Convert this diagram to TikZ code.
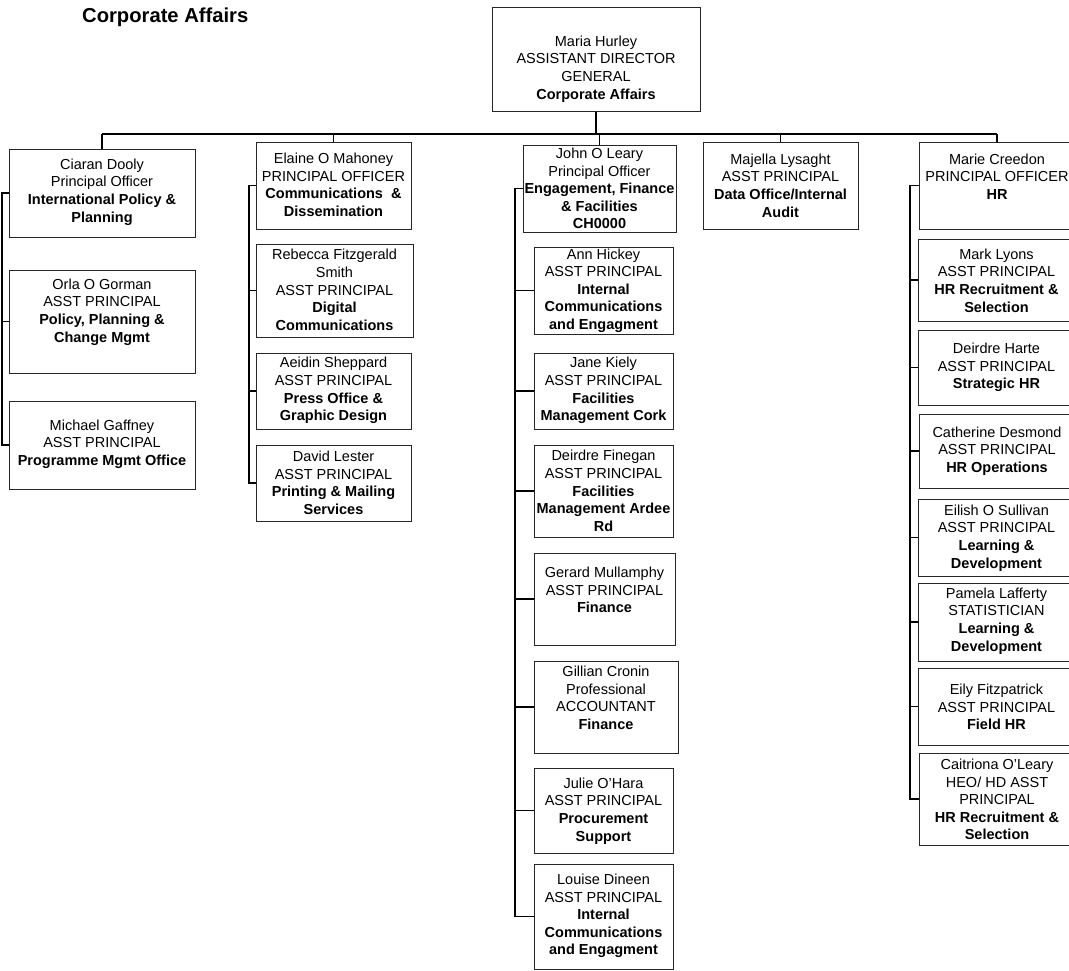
\documentclass[tikz,border=0pt]{standalone}
\usepackage{fontspec}
\setmainfont{Liberation Sans}
\usetikzlibrary{fit,calc}
\tikzset{
  orgbox/.style={draw=black!85, line width=1pt, inner sep=0pt, fill=white},
  orgtxt/.style={align=center, inner sep=0pt, font=\fontsize{14.5}{17.6}\selectfont},
  conn/.style={draw=black, line width=1.3pt},
  titletxt/.style={inner sep=0pt, font=\fontsize{20.2}{24}\selectfont\bfseries}
}
% \orgbox{name}{x1}{y1}{x2}{y2}{text centre y}{text}
\newcommand{\obox}[7]{%
  \node[orgbox, fit={(#2,#3) (#4,#5)}] (#1) {};
  \node[orgtxt] (#1-t) at ({(#2+#4)/2},#6) {#7};
}
\begin{document}
\begin{tikzpicture}[x=1pt,y=-1pt]
\useasboundingbox (0,0) rectangle (1069,970);
\clip (0,0) rectangle (1069,970);
\fill[white] (0,0) rectangle (1069,970);

\node[titletxt, anchor=base west] (title) at (82,22) {Corporate Affairs};

% top
\obox{top}{492}{7}{700}{111}{69}{Maria Hurley\\ASSISTANT DIRECTOR\\GENERAL\\\textbf{Corporate Affairs}}

% column 1
\obox{ciaran}{9}{149}{195}{237}{192}{Ciaran Dooly\\Principal Officer\\\textbf{International Policy \&}\\\textbf{Planning}}
\obox{orla}{9}{270}{195}{373}{312}{Orla O Gorman\\ASST PRINCIPAL\\\textbf{Policy, Planning \&}\\\textbf{Change Mgmt}}
\obox{michael}{9}{401}{195}{489}{444}{Michael Gaffney\\ASST PRINCIPAL\\\textbf{Programme Mgmt Office}}

% column 2
\obox{elaine}{256}{142}{411}{229}{185}{Elaine O Mahoney\\PRINCIPAL OFFICER\\\textbf{Communications \ \&}\\\textbf{Dissemination}}
\obox{rebecca}{256}{244}{413}{337}{290}{Rebecca Fitzgerald\\Smith\\ASST PRINCIPAL\\\textbf{Digital}\\\textbf{Communications}}
\obox{aeidin}{256}{353}{411}{429}{390.5}{Aeidin Sheppard\\ASST PRINCIPAL\\\textbf{Press Office \&}\\\textbf{Graphic Design}}
\obox{david}{256}{445}{411}{521}{483}{David Lester\\ASST PRINCIPAL\\\textbf{Printing \& Mailing}\\\textbf{Services}}

% column 3
\obox{john}{523}{145}{676}{232}{188.5}{John O Leary\\Principal Officer\\\textbf{Engagement, Finance}\\\textbf{\& Facilities}\\\textbf{CH0000}}
\obox{ann}{534}{247}{673}{334}{290.5}{Ann Hickey\\ASST PRINCIPAL\\\textbf{Internal}\\\textbf{Communications}\\\textbf{and Engagment}}
\obox{jane}{534}{353}{673}{429}{390.5}{Jane Kiely\\ASST PRINCIPAL\\\textbf{Facilities}\\\textbf{Management Cork}}
\obox{deirdref}{534}{445}{673}{537}{491}{Deirdre Finegan\\ASST PRINCIPAL\\\textbf{Facilities}\\\textbf{Management Ardee}\\\textbf{Rd}}
\obox{gerard}{534}{553}{675}{645}{590}{Gerard Mullamphy\\ASST PRINCIPAL\\\textbf{Finance}}
\obox{gillian}{534}{661}{678}{753}{698}{Gillian Cronin\\Professional\\ACCOUNTANT\\\textbf{Finance}}
\obox{julie}{534}{768}{673}{853}{811}{Julie O’Hara\\ASST PRINCIPAL\\\textbf{Procurement}\\\textbf{Support}}
\obox{louise}{534}{864}{673}{969}{916}{Louise Dineen\\ASST PRINCIPAL\\\textbf{Internal}\\\textbf{Communications}\\\textbf{and Engagment}}

% column 4
\obox{majella}{703}{142}{858}{229}{185.5}{Majella Lysaght\\ASST PRINCIPAL\\\textbf{Data Office/Internal}\\\textbf{Audit}}

% column 5
\obox{marie}{919}{142}{1075}{229}{176.5}{Marie Creedon\\PRINCIPAL OFFICER\\\textbf{HR}}
\obox{mark}{918}{239}{1075}{321}{280.5}{Mark Lyons\\ASST PRINCIPAL\\\textbf{HR Recruitment \&}\\\textbf{Selection}}
\obox{deirdreh}{918}{330}{1075}{405}{367.5}{Deirdre Harte\\ASST PRINCIPAL\\\textbf{Strategic HR}}
\obox{catherine}{919}{414}{1075}{488}{451}{Catherine Desmond\\ASST PRINCIPAL\\\textbf{HR Operations}}
\obox{eilish}{918}{499}{1075}{576}{538}{Eilish O Sullivan\\ASST PRINCIPAL\\\textbf{Learning \&}\\\textbf{Development}}
\obox{pamela}{918}{583}{1075}{661}{621}{Pamela Lafferty\\STATISTICIAN\\\textbf{Learning \&}\\\textbf{Development}}
\obox{eily}{918}{668}{1075}{745}{707}{Eily Fitzpatrick\\ASST PRINCIPAL\\\textbf{Field HR}}
\obox{caitriona}{919}{753}{1075}{845}{799.5}{Caitriona O’Leary\\HEO/ HD ASST\\PRINCIPAL\\\textbf{HR Recruitment \&}\\\textbf{Selection}}

% bus
\coordinate (busL) at (102,134);
\coordinate (busR) at (997,134);
\draw[conn] (busL) -- (busR);
\draw[conn] (top.south) -- (top.south |- busL);
\foreach \n in {ciaran,elaine,john,majella,marie}
  \draw[conn] (\n.north) -- (\n.north |- busL);

% column side lines
\coordinate (v1) at (2,0);
\draw[conn] (ciaran.west) -- (ciaran.west -| v1) -- (michael.west -| v1) -- (michael.west);
\draw[conn] (orla.west) -- (orla.west -| v1);

\coordinate (v2) at (249,0);
\draw[conn] (elaine.west) -- (elaine.west -| v2) -- (david.west -| v2) -- (david.west);
\foreach \n in {rebecca,aeidin}
  \draw[conn] (\n.west) -- (\n.west -| v2);

\coordinate (v3) at (515,0);
\draw[conn] (john.west) -- (john.west -| v3) -- (louise.west -| v3) -- (louise.west);
\foreach \n in {ann,jane,deirdref,gerard,gillian,julie}
  \draw[conn] (\n.west) -- (\n.west -| v3);

\coordinate (v5) at (910,0);
\draw[conn] (marie.west) -- (marie.west -| v5) -- (caitriona.west -| v5) -- (caitriona.west);
\foreach \n in {mark,deirdreh,catherine,eilish,pamela,eily}
  \draw[conn] (\n.west) -- (\n.west -| v5);
\end{tikzpicture}
\end{document}
